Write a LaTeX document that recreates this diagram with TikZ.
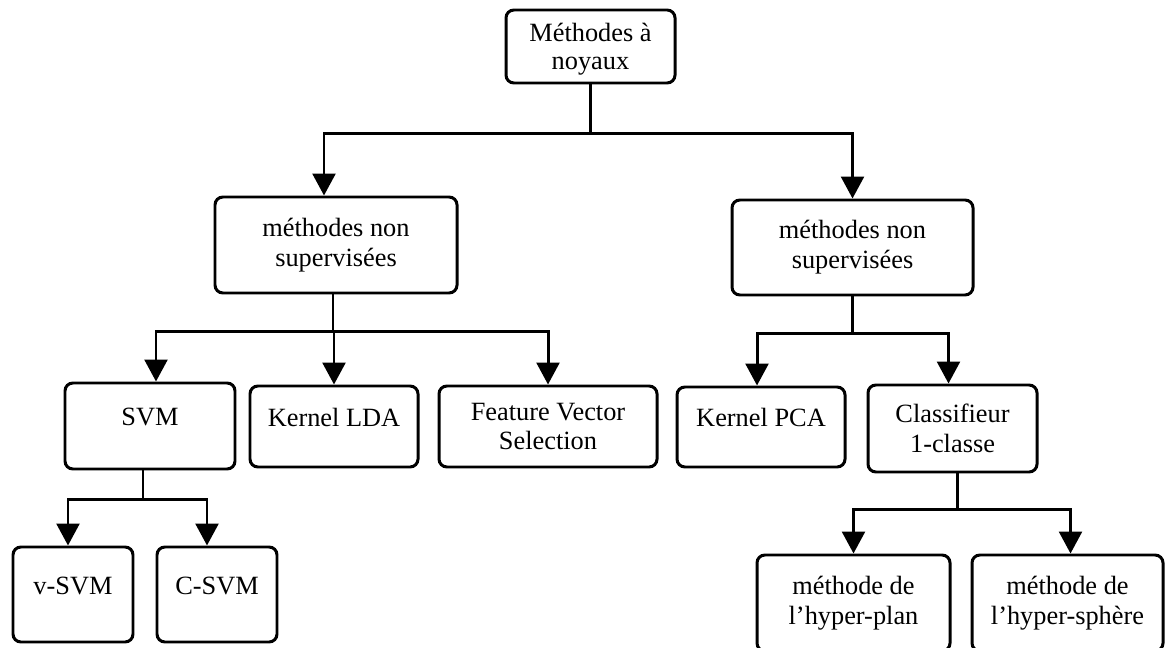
\documentclass[tikz,border=0pt]{standalone}
\usepackage{fontspec}
\setmainfont{Liberation Serif}
\usetikzlibrary{arrows.meta,calc}

\tikzset{
  box/.style 2 args={draw, line width=1.7pt, rounded corners=4.5pt, align=center,
    inner sep=0pt, minimum width=#1*0.02cm, minimum height=#2*0.02cm,
    font=\fontsize{15}{17}\selectfont},
  oneline/.style={text height=0.7em, text depth=0.75em},
  link/.style={line width=1.7pt},
  arrow/.style={link, -{Triangle[width=13pt,length=12.5pt]}},
}

\begin{document}
\begin{tikzpicture}[x=0.02cm,y=-0.02cm]
\useasboundingbox (0,0) rectangle (1165,648);

% boxes
\node[box={169}{73}, font=\fontsize{15}{16}\selectfont, text depth=0pt] (root) at (590.5,46.5) {Méthodes à\\noyaux};

\node[box={242}{96}] (supL) at (336,245) {méthodes non\\supervisées};
\node[box={241}{95}] (supR) at (852.5,247.5) {méthodes non\\supervisées};

\node[box={170}{86}, oneline] (svm) at (150,426) {SVM};
\node[box={168}{81}, oneline] (lda) at (334,426.5) {Kernel LDA};
\node[box={218}{81}] (fvs) at (548,426.5) {Feature Vector\\Selection};
\node[box={168}{80}, oneline] (pca) at (761,427) {Kernel PCA};
\node[box={169}{87}] (cls) at (952.5,428.5) {Classifieur\\1-classe};

\node[box={120}{95}, oneline] (nusvm) at (73,594.5) {v-SVM};
\node[box={120}{95}, oneline] (csvm) at (217,594.5) {C-SVM};
\node[box={193}{96}] (plan) at (853.5,603) {méthode de\\l’hyper-plan};
\node[box={191}{96}] (sphere) at (1067.5,603) {méthode de\\l’hyper-sphère};

% bus points
\coordinate (b0) at ($(root.south)+(0,49)$);
\coordinate (b1) at ($(supL.south)+(-3,37)$);
\coordinate (b2) at ($(supR.south)+(0,37)$);
\coordinate (b3) at ($(svm.south)+(-7,29)$);
\coordinate (b4) at ($(cls.south)+(5,36)$);

% connectors
\draw[link] (root.south) -- (b0);
\draw[arrow] (b0) -| ($(supL.north)+(-12,0)$);
\draw[arrow] (b0) -| (supR.north);

\draw[link] (b1 |- supL.south) -- (b1);
\draw[arrow] (b1) -| ($(svm.north)+(6,0)$);
\draw[arrow] (b1) -| (lda.north);
\draw[arrow] (b1) -| (fvs.north);

\draw[link] (supR.south) -- (b2);
\draw[arrow] (b2) -| ($(pca.north)+(-4,0)$);
\draw[arrow] (b2) -| ($(cls.north)+(-4,0)$);

\draw[link] (b3 |- svm.south) -- (b3);
\draw[arrow] (b3) -| ($(nusvm.north)+(-5,0)$);
\draw[arrow] (b3) -| ($(csvm.north)+(-10,0)$);

\draw[link] (b4 |- cls.south) -- (b4);
\draw[arrow] (b4) -| (plan.north);
\draw[arrow] (b4) -| ($(sphere.north)+(3,0)$);

\end{tikzpicture}
\end{document}
